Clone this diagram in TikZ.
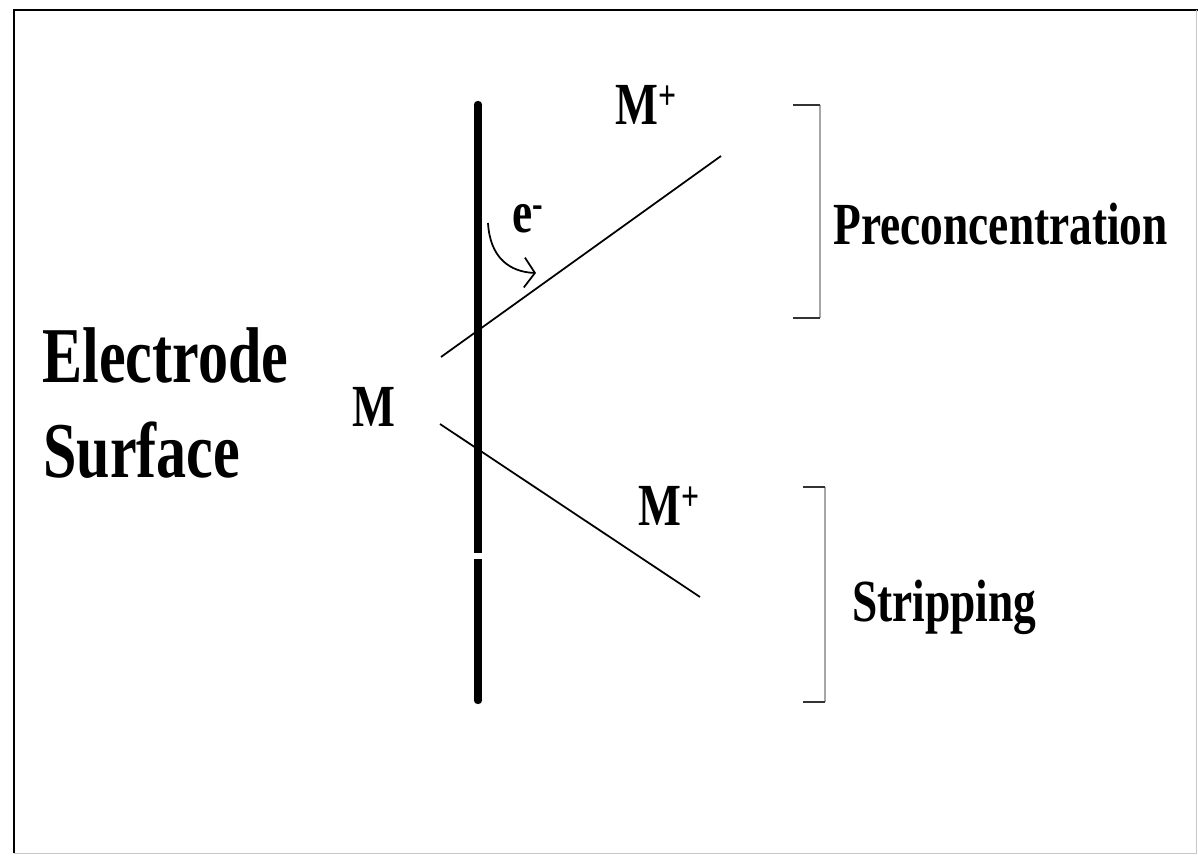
\documentclass[tikz,border=0pt]{standalone}
\usepackage{fontspec}
\setmainfont{Liberation Serif}
\newfontfamily\condserif[FakeStretch=0.76]{Liberation Serif}
\usetikzlibrary{arrows.meta, calc}

\begin{document}
\begin{tikzpicture}[x=0.02cm, y=-0.02cm,
  lbl/.style={font=\condserif\bfseries\fontsize{34}{36}\selectfont, inner sep=0pt, anchor=base west},
  biglbl/.style={font=\condserif\bfseries\fontsize{45}{50}\selectfont, inner sep=0pt, anchor=base west},
  thinline/.style={line width=1pt},
  bracketline/.style={gray!70, line width=0.6pt},
  brackettick/.style={black!80, line width=1pt}]
  \useasboundingbox (0,0) rectangle (1198,857);
  \fill[white] (0,0) rectangle (1198,857);
  % frame
  \draw[line width=1.2pt] (14,853) -- (14,10) -- (1198,10);
  \draw[gray!45] (14,853) -- (1196,853) -- (1196,10);
  % electrode
  \coordinate (etop) at (478,105);
  \coordinate (egapa) at (478,553);
  \coordinate (egapb) at (478,559);
  \coordinate (ebot) at (478,700);
  \draw[line width=4.5pt] (etop) -- (egapa);
  \draw[line width=4.5pt] (egapb) -- (ebot);
  \fill (etop) circle (4.2);
  \fill (ebot) circle (4.2);
  % reaction lines
  \coordinate (upa) at (441,357);
  \coordinate (upb) at (721,156);
  \coordinate (lowa) at (440,424);
  \coordinate (lowb) at (700,597);
  \draw[thinline] (upa) -- (upb);
  \draw[thinline] (lowa) -- (lowb);
  \coordinate (arra) at (488,223);
  \coordinate (arrb) at (536,273);
  \draw[thinline, -{Straight Barb[length=6pt, width=17pt]}] (arra) .. controls (490,258) and (510,272) .. (arrb);
  % labels
  \node[lbl] (mup) at (615,125) {M\textsuperscript{+}};
  \node[lbl] (mlow) at (638,526) {M\textsuperscript{+}};
  \node[lbl] (metal) at (352,427) {M};
  \node[lbl] (elec) at (512,233) {e\textsuperscript{-}};
  \node[biglbl] (electrode) at (42,383) {Electrode};
  \node[biglbl] (surface) at (43,478) {Surface};
  \node[lbl] (precon) at (833,245) {Preconcentration};
  \node[lbl] (strip) at (852,622) {Stripping};
  % brackets
  \coordinate (ba) at (793,105);
  \coordinate (bb) at (820,105);
  \coordinate (bc) at (820,318);
  \coordinate (bd) at (793,318);
  \draw[bracketline] (bb) -- (bc);
  \draw[brackettick] (ba) -- (bb);
  \draw[brackettick] (bd) -- (bc);
  \coordinate (ca) at (803,487);
  \coordinate (cb) at (825,487);
  \coordinate (cc) at (825,702);
  \coordinate (cd) at (803,702);
  \draw[bracketline] (cb) -- (cc);
  \draw[brackettick] (ca) -- (cb);
  \draw[brackettick] (cd) -- (cc);
\end{tikzpicture}
\end{document}
